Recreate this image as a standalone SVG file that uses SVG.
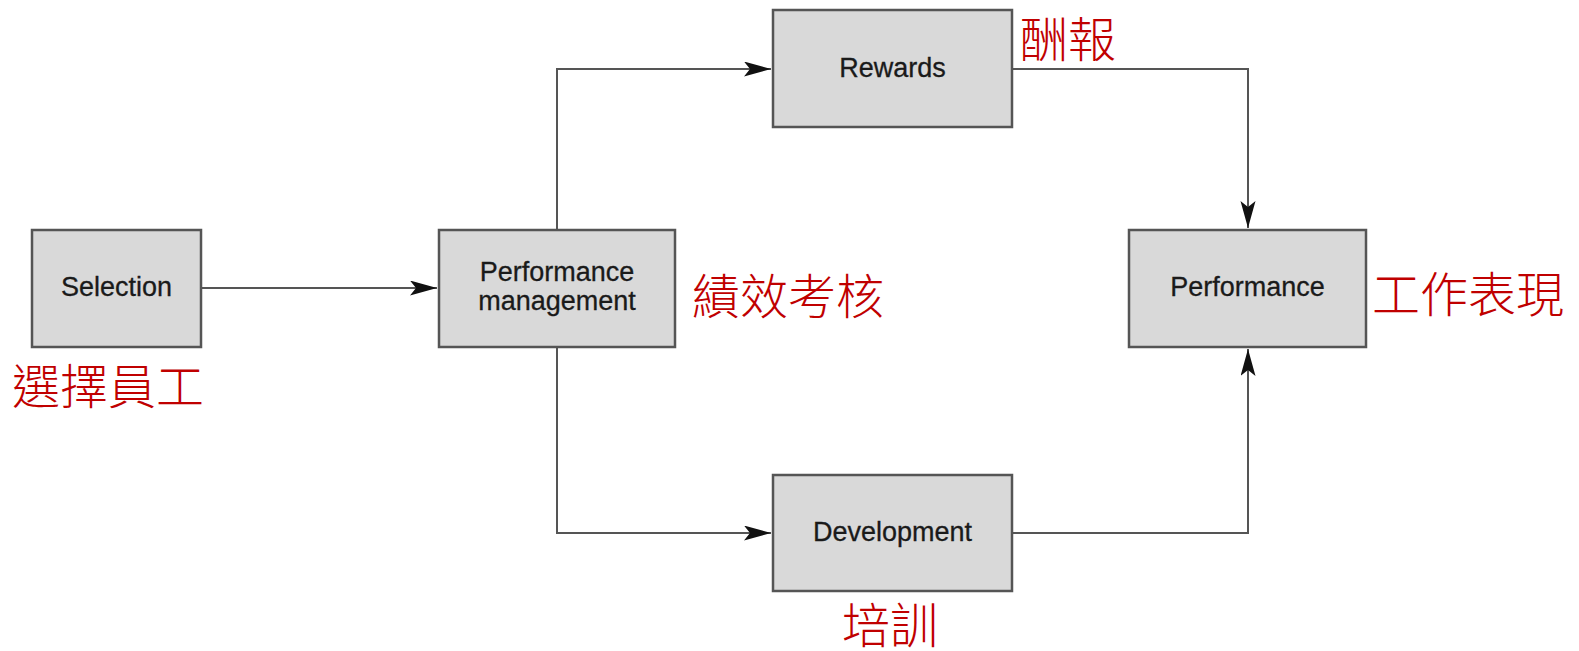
<svg xmlns="http://www.w3.org/2000/svg" width="1579" height="651" viewBox="0 0 1579 651">
<style>
.box{fill:#d9d9d9;stroke:#555;stroke-width:2.5}
.lbl{font-family:"Liberation Sans",Arial,sans-serif;font-size:27px;fill:#1a1a1a;stroke:#1a1a1a;stroke-width:0.3;text-anchor:middle}
.zh{font-family:"Noto Sans CJK TC","Noto Sans CJK SC",sans-serif;font-size:48px;font-weight:300;fill:#c00000}
.con{fill:none;stroke:#555;stroke-width:2}
</style>
<defs>
<marker id="arr" markerUnits="userSpaceOnUse" markerWidth="30" markerHeight="16" refX="27" refY="7.5" orient="auto">
<path d="M0,0 L27,7.5 L0,15 L6,7.5 z" fill="#111"/>
</marker>
</defs>
<rect width="1579" height="651" fill="#fff"/>
<g id="connectors">
<path class="con" d="M201,288 L437,288" marker-end="url(#arr)"/>
<path class="con" d="M557,230 L557,69 L771,69" marker-end="url(#arr)"/>
<path class="con" d="M1012,69 L1248,69 L1248,228" marker-end="url(#arr)"/>
<path class="con" d="M557,347 L557,533 L771,533" marker-end="url(#arr)"/>
<path class="con" d="M1012,533 L1248,533 L1248,349" marker-end="url(#arr)"/>
</g>
<g id="selection">
<rect class="box" x="32" y="230" width="169" height="117"/>
<text class="lbl" x="116.5" y="296">Selection</text>
<text class="zh" x="12" y="404">選擇員工</text>
</g>
<g id="performance-management">
<rect class="box" x="439" y="230" width="236" height="117"/>
<text class="lbl" x="557" y="281">Performance</text>
<text class="lbl" x="557" y="310">management</text>
<text class="zh" x="692" y="314">績效考核</text>
</g>
<g id="rewards">
<rect class="box" x="773" y="10" width="239" height="117"/>
<text class="lbl" x="892.5" y="77">Rewards</text>
<text class="zh" x="1020" y="57">酬報</text>
</g>
<g id="development">
<rect class="box" x="773" y="475" width="239" height="116"/>
<text class="lbl" x="892.5" y="541">Development</text>
<text class="zh" x="842" y="643">培訓</text>
</g>
<g id="performance">
<rect class="box" x="1129" y="230" width="237" height="117"/>
<text class="lbl" x="1247.5" y="296">Performance</text>
<text class="zh" x="1372" y="312">工作表現</text>
</g>
</svg>
